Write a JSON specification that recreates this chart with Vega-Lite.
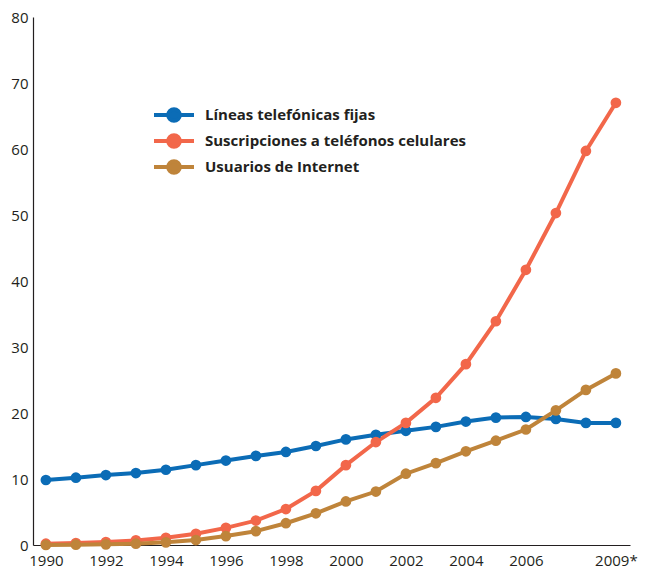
{
  "$schema": "https://vega.github.io/schema/vega-lite/v6.json",
  "width": 597,
  "height": 528,
  "autosize": {"type": "none"},
  "padding": {"left": 33, "top": 17, "right": 18, "bottom": 25},
  "background": "white",
  "config": {"view": {"stroke": null}},
  "data": {"values": [
    {"year": 1990, "series": "Líneas telefónicas fijas", "value": 9.85},
    {"year": 1991, "series": "Líneas telefónicas fijas", "value": 10.2},
    {"year": 1992, "series": "Líneas telefónicas fijas", "value": 10.6},
    {"year": 1993, "series": "Líneas telefónicas fijas", "value": 10.9},
    {"year": 1994, "series": "Líneas telefónicas fijas", "value": 11.4},
    {"year": 1995, "series": "Líneas telefónicas fijas", "value": 12.1},
    {"year": 1996, "series": "Líneas telefónicas fijas", "value": 12.8},
    {"year": 1997, "series": "Líneas telefónicas fijas", "value": 13.5},
    {"year": 1998, "series": "Líneas telefónicas fijas", "value": 14.1},
    {"year": 1999, "series": "Líneas telefónicas fijas", "value": 15.0},
    {"year": 2000, "series": "Líneas telefónicas fijas", "value": 16.0},
    {"year": 2001, "series": "Líneas telefónicas fijas", "value": 16.7},
    {"year": 2002, "series": "Líneas telefónicas fijas", "value": 17.3},
    {"year": 2003, "series": "Líneas telefónicas fijas", "value": 17.9},
    {"year": 2004, "series": "Líneas telefónicas fijas", "value": 18.7},
    {"year": 2005, "series": "Líneas telefónicas fijas", "value": 19.3},
    {"year": 2006, "series": "Líneas telefónicas fijas", "value": 19.4},
    {"year": 2007, "series": "Líneas telefónicas fijas", "value": 19.1},
    {"year": 2008, "series": "Líneas telefónicas fijas", "value": 18.5},
    {"year": 2009, "series": "Líneas telefónicas fijas", "value": 18.5},
    {"year": 1990, "series": "Suscripciones a teléfonos celulares", "value": 0.2},
    {"year": 1991, "series": "Suscripciones a teléfonos celulares", "value": 0.3},
    {"year": 1992, "series": "Suscripciones a teléfonos celulares", "value": 0.45},
    {"year": 1993, "series": "Suscripciones a teléfonos celulares", "value": 0.7},
    {"year": 1994, "series": "Suscripciones a teléfonos celulares", "value": 1.1},
    {"year": 1995, "series": "Suscripciones a teléfonos celulares", "value": 1.7},
    {"year": 1996, "series": "Suscripciones a teléfonos celulares", "value": 2.6},
    {"year": 1997, "series": "Suscripciones a teléfonos celulares", "value": 3.7},
    {"year": 1998, "series": "Suscripciones a teléfonos celulares", "value": 5.45},
    {"year": 1999, "series": "Suscripciones a teléfonos celulares", "value": 8.2},
    {"year": 2000, "series": "Suscripciones a teléfonos celulares", "value": 12.1},
    {"year": 2001, "series": "Suscripciones a teléfonos celulares", "value": 15.6},
    {"year": 2002, "series": "Suscripciones a teléfonos celulares", "value": 18.5},
    {"year": 2003, "series": "Suscripciones a teléfonos celulares", "value": 22.3},
    {"year": 2004, "series": "Suscripciones a teléfonos celulares", "value": 27.4},
    {"year": 2005, "series": "Suscripciones a teléfonos celulares", "value": 33.9},
    {"year": 2006, "series": "Suscripciones a teléfonos celulares", "value": 41.7},
    {"year": 2007, "series": "Suscripciones a teléfonos celulares", "value": 50.3},
    {"year": 2008, "series": "Suscripciones a teléfonos celulares", "value": 59.7},
    {"year": 2009, "series": "Suscripciones a teléfonos celulares", "value": 67.0},
    {"year": 1990, "series": "Usuarios de Internet", "value": 0.0},
    {"year": 1991, "series": "Usuarios de Internet", "value": 0.05},
    {"year": 1992, "series": "Usuarios de Internet", "value": 0.1},
    {"year": 1993, "series": "Usuarios de Internet", "value": 0.2},
    {"year": 1994, "series": "Usuarios de Internet", "value": 0.4},
    {"year": 1995, "series": "Usuarios de Internet", "value": 0.75},
    {"year": 1996, "series": "Usuarios de Internet", "value": 1.35},
    {"year": 1997, "series": "Usuarios de Internet", "value": 2.1},
    {"year": 1998, "series": "Usuarios de Internet", "value": 3.3},
    {"year": 1999, "series": "Usuarios de Internet", "value": 4.8},
    {"year": 2000, "series": "Usuarios de Internet", "value": 6.6},
    {"year": 2001, "series": "Usuarios de Internet", "value": 8.1},
    {"year": 2002, "series": "Usuarios de Internet", "value": 10.8},
    {"year": 2003, "series": "Usuarios de Internet", "value": 12.4},
    {"year": 2004, "series": "Usuarios de Internet", "value": 14.2},
    {"year": 2005, "series": "Usuarios de Internet", "value": 15.8},
    {"year": 2006, "series": "Usuarios de Internet", "value": 17.5},
    {"year": 2007, "series": "Usuarios de Internet", "value": 20.4},
    {"year": 2008, "series": "Usuarios de Internet", "value": 23.5},
    {"year": 2009, "series": "Usuarios de Internet", "value": 26.0}
  ]},
  "mark": {"type": "line", "strokeWidth": 4, "point": {"filled": true, "size": 115, "opacity": 1}},
  "encoding": {
    "x": {
      "field": "year", "type": "quantitative",
      "scale": {"domain": [1989.57, 2009.47], "nice": false, "zero": false},
      "axis": {
        "title": null, "grid": false, "ticks": false,
        "values": [1990, 1992, 1994, 1996, 1998, 2000, 2002, 2004, 2006, 2009],
        "labelExpr": "datum.value == 2009 ? '2009*' : datum.value",
        "labelFlush": false, "labelOverlap": false,
        "labelFont": "Open Sans", "labelFontSize": 15, "labelColor": "#231f20",
        "labelPadding": 8, "domainColor": "#231f20", "domainWidth": 1.2
      }
    },
    "y": {
      "field": "value", "type": "quantitative",
      "scale": {"domain": [0, 80], "nice": false},
      "axis": {
        "title": null, "grid": false, "ticks": false,
        "values": [0, 10, 20, 30, 40, 50, 60, 70, 80],
        "labelFont": "Open Sans", "labelFontSize": 15, "labelColor": "#231f20",
        "labelPadding": 5, "domainColor": "#231f20", "domainWidth": 1.2
      }
    },
    "color": {
      "field": "series", "type": "nominal",
      "scale": {
        "domain": ["Líneas telefónicas fijas", "Suscripciones a teléfonos celulares", "Usuarios de Internet"],
        "range": ["#0b6cb6", "#f2674a", "#bf843a"]
      },
      "legend": {
        "title": null, "orient": "none", "legendX": 129, "legendY": 86,
        "symbolType": "M-2,0H2M-0.58,0A0.58,0.58 0 1,0 0.58,0A0.58,0.58 0 1,0 -0.58,0Z",
        "symbolSize": 400, "symbolStrokeWidth": 4, "symbolOpacity": 1,
        "labelFont": "Open Sans", "labelFontSize": 15, "labelFontWeight": "bold",
        "labelColor": "#231f20", "labelOffset": 19, "labelLimit": 500, "rowPadding": -2
      }
    }
  }
}
